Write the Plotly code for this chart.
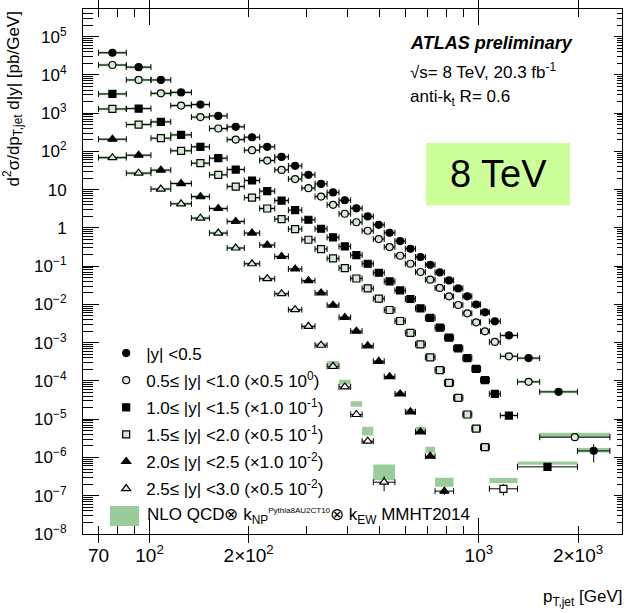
import math
import plotly.graph_objects as go

# ---------------- data ----------------
bin_edges = [70, 85, 101, 116, 134, 152, 172, 194, 216, 240, 264, 290, 318, 346, 376,
             408, 442, 478, 516, 556, 598, 642, 688, 736, 786, 838, 894, 952, 1012,
             1076, 1162, 1310, 1530, 1992, 2500]

edges_y0 = bin_edges
edges_y1 = bin_edges[:33] + [2500]
edges_y2 = bin_edges[:32] + [1992]
edges_y3 = bin_edges[:30] + [1310]
edges_y4 = bin_edges[:24] + [838]
edges_y5 = bin_edges[:18] + [556]

xs_y0 = [3.8e4, 1.6e4, 7.4e3, 3.5e3, 1.68e3, 850, 440, 235, 132, 72, 42, 24.5, 14.2, 8.5,
         5.3, 3.27, 2.0, 1.21, 0.75, 0.455, 0.286, 0.174, 0.109, 0.0689, 0.0426, 0.0263,
         0.0163, 0.0100, 0.00622, 0.00363, 0.00155, 3.96e-4, 5.2e-5, 1.49e-6]
xs_y1 = [1.82e4, 7.4e3, 3.3e3, 1.58e3, 790, 398, 204, 108, 57.8, 33, 19, 11, 6.6, 4.03,
         2.35, 1.41, 0.845, 0.513, 0.317, 0.188, 0.116, 0.0706, 0.0445, 0.027, 0.0163,
         0.0097, 0.00586, 0.00341, 0.00199, 0.00105, 4.42e-4, 9.5e-5, 3.4e-6]
xs_y2 = [3.19e3, 1.32e3, 593, 271, 132, 66.8, 33.7, 17.4, 9.2, 5.2, 2.93, 1.64, 0.953,
         0.565, 0.329, 0.196, 0.116, 0.0676, 0.0401, 0.0233, 0.0139, 0.0079, 0.00444,
         0.00248, 0.00136, 7.14e-4, 3.96e-4, 2.07e-4, 1.05e-4, 4.6e-5, 1.25e-5, 5.7e-7]
xs_y3 = [1.29e3, 505, 222, 104, 49.4, 24.5, 12.1, 6.2, 3.23, 1.71, 0.935, 0.492, 0.281,
         0.16, 0.0897, 0.0478, 0.0263, 0.0142, 0.00718, 0.0037, 0.00181, 9.08e-4, 4.16e-4,
         1.93e-4, 8.9e-5, 3.62e-5, 1.33e-5, 5.7e-6, 1.86e-6, 1.52e-7]
xs_y4 = [209, 80, 32.5, 14.5, 6.6, 3.23, 1.48, 0.736, 0.358, 0.18, 0.0845, 0.0418, 0.02,
         0.0096, 0.0046, 0.00201, 8.3e-4, 3.27e-4, 1.3e-4, 4.6e-5, 1.56e-5, 4.69e-6,
         1.08e-6, 1.32e-7]
xs_y5 = [69, 27.1, 10.4, 4.28, 1.81, 0.736, 0.299, 0.116, 0.0472, 0.0191, 0.0073, 0.00268,
         8.6e-4, 2.42e-4, 7.0e-5, 1.33e-5, 2.67e-6, 2.26e-7]

# relative statistical uncertainty of the data
err_y0 = [0.02] * 32 + [0.10, 0.50]
err_y1 = [0.02] * 32 + [0.15]
err_y2 = [0.02] * 31 + [0.12]
err_y3 = [0.02] * 29 + [0.33]
err_y4 = [0.02] * 22 + [0.10, 0.20]
err_y5 = [0.02] * 16 + [0.15, 0.42]

# NLO theory / data ratio and multiplicative half-width of the band
nlo_ratio_y0 = [1.0] * 33 + [1.04]
nlo_ratio_y1 = [1.0] * 32 + [1.12]
nlo_ratio_y2 = [1.0] * 31 + [1.25]
nlo_ratio_y3 = [1.0] * 29 + [1.64]
nlo_ratio_y4 = [1.0] * 19 + [1.04, 1.06, 1.15, 1.47, 1.71]
nlo_ratio_y5 = [1.0] * 12 + [1.05, 1.20, 1.33, 1.88, 1.83, 1.81]

nlo_band_y0 = [1.08] * 32 + [1.08, 1.15]
nlo_band_y1 = [1.08] * 32 + [1.16]
nlo_band_y2 = [1.08] * 31 + [1.10]
nlo_band_y3 = [1.08] * 29 + [1.16]
nlo_band_y4 = [1.08] * 19 + [1.10, 1.10, 1.18, 1.20, 1.31]
nlo_band_y5 = [1.08] * 12 + [1.10, 1.15, 1.16, 1.18, 1.30, 1.60]

series_names = [
    "|y| <0.5",
    "0.5\u2264 |y| <1.0 (\u00d70.5 10<sup>0</sup>)",
    "1.0\u2264 |y| <1.5 (\u00d71.0 10<sup>-1</sup>)",
    "1.5\u2264 |y| <2.0 (\u00d70.5 10<sup>-1</sup>)",
    "2.0\u2264 |y| <2.5 (\u00d71.0 10<sup>-2</sup>)",
    "2.5\u2264 |y| <3.0 (\u00d70.5 10<sup>-2</sup>)",
]
nlo_name = ("NLO QCD\u2297 k<sub>NP</sub><sup><span style='font-size:8px'>Pythia8AU2CT10</span></sup>"
            "\u2297 k<sub>EW</sub> MMHT2014")

y_tickvals = [1e5, 1e4, 1e3, 1e2, 10, 1, 1e-1, 1e-2, 1e-3, 1e-4, 1e-5, 1e-6, 1e-7, 1e-8]
y_ticktext = ["10<sup>5</sup>", "10<sup>4</sup>", "10<sup>3</sup>", "10<sup>2</sup>", "10", "1",
              "10<sup>\u22121</sup>", "10<sup>\u22122</sup>", "10<sup>\u22123</sup>",
              "10<sup>\u22124</sup>", "10<sup>\u22125</sup>", "10<sup>\u22126</sup>",
              "10<sup>\u22127</sup>", "10<sup>\u22128</sup>"]
x_tickvals = [70, 100, 200, 1000, 2000]
x_ticktext = ["70", "10<sup>2</sup>", "2\u00d710<sup>2</sup>", "10<sup>3</sup>", "2\u00d710<sup>3</sup>"]
x_major_long = [100, 1000]
x_minor = [80, 90, 300, 400, 500, 600, 700, 800, 900]
y_minor = [k * 10.0 ** d for d in range(-8, 6) for k in range(2, 10)]

x_range = [62.8, 2720]
y_range = [1e-8, 10 ** 5.724]

# ---------------- style ----------------
FONT = "Liberation Sans, Arial, Helvetica, sans-serif"
GREEN = "#99cc99"
PALE = "#d4ead4"
symbols = ["circle", "circle", "square", "square", "triangle-up", "triangle-up"]
filled = [True, False, True, False, True, False]
sizes = [7, 7, 7, 7, 8, 8]

all_edges = [edges_y0, edges_y1, edges_y2, edges_y3, edges_y4, edges_y5]
all_vals = [xs_y0, xs_y1, xs_y2, xs_y3, xs_y4, xs_y5]
all_err = [err_y0, err_y1, err_y2, err_y3, err_y4, err_y5]
all_ratio = [nlo_ratio_y0, nlo_ratio_y1, nlo_ratio_y2, nlo_ratio_y3, nlo_ratio_y4, nlo_ratio_y5]
all_band = [nlo_band_y0, nlo_band_y1, nlo_band_y2, nlo_band_y3, nlo_band_y4, nlo_band_y5]

fig = go.Figure()

# theory bands
for i in range(6):
    ed, vals, rat, bd = all_edges[i], all_vals[i], all_ratio[i], all_band[i]
    bx, by = [], []
    for j, v in enumerate(vals):
        lo, hi = ed[j], ed[j + 1]
        tl, th = v * rat[j] / bd[j], v * rat[j] * bd[j]
        bx += [lo, hi, hi, lo, lo, None]
        by += [tl, tl, th, th, tl, None]
    fig.add_trace(go.Scatter(
        x=bx, y=by, mode="none", fill="toself", fillcolor=GREEN,
        name="NLO", showlegend=False, hoverinfo="skip"))

# data points
for i in range(6):
    ed, vals, er, rat, bd = all_edges[i], all_vals[i], all_err[i], all_ratio[i], all_band[i]
    xc = [math.sqrt(ed[j] * ed[j + 1]) for j in range(len(vals))]
    ep = [ed[j + 1] - xc[j] for j in range(len(vals))]
    em = [xc[j] - ed[j] for j in range(len(vals))]
    ey = [vals[j] * er[j] for j in range(len(vals))]
    if filled[i]:
        mcol = "black"
    else:
        mcol = [PALE if (rat[j] / bd[j] <= 1.0 <= rat[j] * bd[j]) else "white"
                for j in range(len(vals))]
    fig.add_trace(go.Scatter(
        x=xc, y=vals, mode="markers", name=series_names[i],
        legendgroup="g%d" % i, legendrank=i + 1,
        marker=dict(symbol=symbols[i], size=sizes[i], color=mcol,
                    line=dict(color="black", width=1.2)),
        error_x=dict(type="data", symmetric=False, array=ep, arrayminus=em,
                     color="black", thickness=1, width=3),
        error_y=dict(type="data", array=ey, color="black", thickness=1, width=0),
    ))

# dummy traces attaching the overlay axes that carry the extra tick marks
for xa, ya in [("x2", "y"), ("x3", "y"), ("x", "y2"), ("x", "y3"), ("x", "y4")]:
    fig.add_trace(go.Scatter(x=[None], y=[None], xaxis=xa, yaxis=ya,
                             showlegend=False, hoverinfo="skip"))

xr = [math.log10(x_range[0]), math.log10(x_range[1])]
yr = [math.log10(y_range[0]), math.log10(y_range[1])]


def tick_axis(vals, length, **kw):
    d = dict(type="log", showticklabels=False, tickmode="array", tickvals=vals,
             ticks="inside", ticklen=length, tickcolor="black", tickwidth=1,
             showline=False, showgrid=False, zeroline=False)
    d.update(kw)
    return d


fig.update_layout(
    width=626, height=613,
    margin=dict(l=83, r=4, t=9, b=79),
    paper_bgcolor="white", plot_bgcolor="white",
    font=dict(family=FONT, color="black", size=17),
    xaxis=dict(type="log", range=xr,
               tickmode="array", tickvals=x_tickvals, ticktext=x_ticktext, ticklen=8,
               tickfont=dict(size=19), ticklabelstandoff=4,
               showline=True, linecolor="black", linewidth=1, showgrid=False,
               zeroline=False, ticks="inside", tickcolor="black", tickwidth=1,
               mirror="allticks"),
    xaxis2=tick_axis(x_major_long, 16, range=xr, overlaying="x", anchor="y",
                     side="bottom", mirror="ticks"),
    xaxis3=tick_axis(x_minor, 8, range=xr, overlaying="x", anchor="y",
                     side="bottom", mirror="ticks"),
    yaxis=dict(type="log", range=yr,
               tickmode="array", tickvals=y_tickvals, ticktext=y_ticktext, ticklen=16,
               tickfont=dict(size=17), ticklabelstandoff=12,
               showline=True, linecolor="black", linewidth=1, showgrid=False,
               zeroline=False, ticks="inside", tickcolor="black", tickwidth=1,
               mirror=True),
    yaxis3=tick_axis(y_minor, 10, range=yr, overlaying="y", anchor="x", side="left"),
    yaxis2=tick_axis(y_tickvals, 8, range=yr, overlaying="y", anchor="x", side="right"),
    yaxis4=tick_axis(y_minor, 5, range=yr, overlaying="y", anchor="x", side="right"),
    legend=dict(x=0.043, y=0.378, xanchor="left", yanchor="top", bgcolor="rgba(0,0,0,0)",
                borderwidth=0, font=dict(size=17), tracegroupgap=2, traceorder="grouped"),
    showlegend=True,
)

# 8 TeV box
fig.add_shape(type="rect", xref="paper", yref="paper", x0=0.6364, x1=0.9035,
              y0=0.6257, y1=0.7448, fillcolor="#ccff99", line=dict(width=0), layer="below")

# NLO legend entry (swatch + label)
fig.add_shape(type="rect", xref="paper", yref="paper", x0=0.0501, x1=0.1039,
              y0=0.0152, y1=0.0533, fillcolor=GREEN, line=dict(width=0), layer="above")
fig.add_annotation(text=nlo_name, xref="paper", yref="paper", x=0.115, y=0.0343,
                   xanchor="left", yanchor="middle", showarrow=False, font=dict(size=17))

annots = [
    dict(text="<b><i>ATLAS preliminary</i></b>", x=0.603, y=0.935, font=dict(size=18)),
    dict(text="\u221As= 8 TeV, 20.3 fb<sup>-1</sup>", x=0.603, y=0.882, font=dict(size=17)),
    dict(text="anti-k<sub>t</sub> R= 0.6", x=0.603, y=0.830, font=dict(size=17)),
]
for a in annots:
    fig.add_annotation(xref="paper", yref="paper", xanchor="left", yanchor="middle",
                       showarrow=False, **a)

fig.add_annotation(text="8 TeV", xref="paper", yref="paper", x=0.770, y=0.686,
                   xanchor="center", yanchor="middle", showarrow=False,
                   font=dict(size=38))

fig.add_annotation(text="d<sup>2</sup>\u03c3/dp<sub>T,jet</sub> d|y| [pb/GeV]",
                   xref="paper", yref="paper", x=-0.13, y=1.0, xanchor="center",
                   yanchor="top", textangle=-90, showarrow=False, font=dict(size=17))
fig.add_annotation(text="p<sub>T,jet</sub> [GeV]", xref="paper", yref="paper",
                   x=1.004, y=-0.146, xanchor="right", yanchor="bottom", showarrow=False,
                   font=dict(size=17))

fig.write_html("out.html")
